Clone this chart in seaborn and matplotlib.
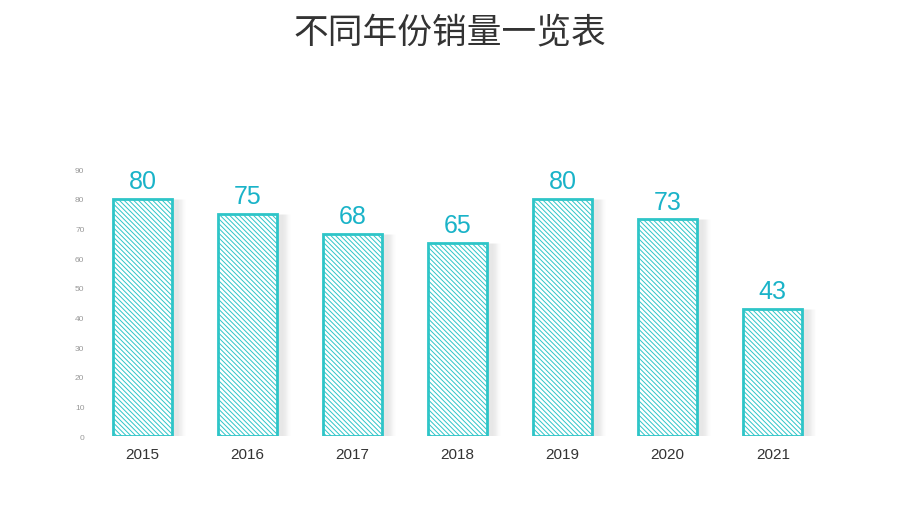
import matplotlib.pyplot as plt
import seaborn as sns
import pandas as pd

years = ['2015', '2016', '2017', '2018', '2019', '2020', '2021']
sales = [80, 75, 68, 65, 80, 73, 43]
yticks = [0, 10, 20, 30, 40, 50, 60, 70, 80, 90]

sns.set_style('white')
plt.rcParams['font.family'] = ['Noto Sans CJK SC', 'DejaVu Sans']
plt.rcParams['hatch.color'] = '#2ec5c8'
plt.rcParams['hatch.linewidth'] = 0.7

df = pd.DataFrame({'year': years, 'sales': sales})

fig = plt.figure(figsize=(9, 5.06), dpi=100)
ax = fig.add_axes([0.1, 0.136, 0.817, 0.528])

# 柔和阴影
for i, v in enumerate(sales):
    for k in range(6):
        ax.bar(i + 0.06 + k * 0.012, v, width=0.56, color='#888888', alpha=0.03, zorder=1)

sns.barplot(data=df, x='year', y='sales', ax=ax, color='white', width=0.56,
            edgecolor='#2ec5c8', linewidth=2, zorder=2)
for p in ax.patches[-len(sales):]:
    p.set_hatch('\\' * 7)
    p.set_edgecolor('#2ec5c8')

for i, v in enumerate(sales):
    ax.text(i, v + 2, str(v), ha='center', va='bottom', fontsize=18,
            color='#1ab3c8', family=['Liberation Sans', 'DejaVu Sans'])

ax.set_ylim(0, 90)
ax.set_xlim(-0.5, 6.5)
ax.set_yticks(yticks)
ax.tick_params(axis='y', labelsize=6, colors='#999999', length=0, pad=4)
ax.tick_params(axis='x', labelsize=11, colors='#333333', length=0, pad=8)
for t in ax.get_xticklabels() + ax.get_yticklabels():
    t.set_family(['Liberation Sans', 'DejaVu Sans'])
ax.set_xlabel('')
ax.set_ylabel('')
sns.despine(ax=ax, left=True, bottom=True)

fig.text(0.5, 0.935, '不同年份销量一览表', ha='center', va='center', fontsize=25, color='#333333')

fig.savefig('out.png', dpi=100)
